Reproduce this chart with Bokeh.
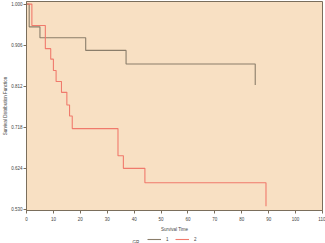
from bokeh.plotting import figure
from bokeh.layouts import column
from bokeh.models import Range1d, FixedTicker, NumeralTickFormatter, Legend, LegendItem, Label
from bokeh.embed import file_html
from bokeh.resources import INLINE

# Data (Kaplan-Meier estimates)
time_g1 = [0, 1, 5, 22, 37, 85]
surv_g1 = [1.0, 0.948, 0.923, 0.894, 0.863, 0.815]
time_g2 = [0, 2, 7, 9, 10, 11, 13, 15, 16, 17, 34, 36, 44, 89]
surv_g2 = [1.0, 0.951, 0.898, 0.874, 0.848, 0.823, 0.798, 0.769, 0.744, 0.715, 0.653, 0.624, 0.591, 0.537]
x_ticks = [0, 10, 20, 30, 40, 50, 60, 70, 80, 90, 100, 110]
y_ticks = [0.530, 0.624, 0.718, 0.812, 0.906, 1.000]
group_labels = ["1", "2"]
legend_title = "GR"

FONT = "Liberation Sans"
FRAME = "#7a6e5c"
TXT = "#444444"
C1 = "#8a7d6a"
C2 = "#f07a6c"

p = figure(width=325, height=234, output_backend="svg", toolbar_location=None,
           x_range=Range1d(0, 110), y_range=Range1d(0.5275, 1.006),
           min_border_left=25, min_border_right=3, min_border_top=1, min_border_bottom=22)
p.background_fill_color = "#f8e0c3"
p.border_fill_color = "white"
p.outline_line_color = FRAME
p.outline_line_width = 1
p.grid.visible = False

r1 = p.step(time_g1, surv_g1, mode="after", line_color=C1, line_width=1.1)
r2 = p.step(time_g2, surv_g2, mode="after", line_color=C2, line_width=1.1)

for ax in (p.xaxis[0], p.yaxis[0]):
    ax.axis_line_color = FRAME
    ax.major_tick_line_color = FRAME
    ax.minor_tick_line_color = None
    ax.major_tick_in = 0
    ax.major_tick_out = 3
    ax.major_label_text_font = FONT
    ax.major_label_text_font_size = "4.5px"
    ax.major_label_text_color = TXT
    ax.axis_label_text_font = FONT
    ax.axis_label_text_font_size = "4.5px"
    ax.axis_label_text_font_style = "normal"
    ax.axis_label_text_color = TXT

p.xaxis.ticker = FixedTicker(ticks=x_ticks)
p.yaxis.ticker = FixedTicker(ticks=y_ticks)
p.yaxis.formatter = NumeralTickFormatter(format="0.000")
p.xaxis.axis_label = "Survival Time"
p.yaxis.axis_label = "Survival Distribution Function"
p.xaxis.major_label_standoff = 3
p.xaxis.axis_label_standoff = 3
p.yaxis.major_label_standoff = 1
p.yaxis.axis_label_standoff = 0

# legend row as a separate small figure (frame aligned with the main frame)
q = figure(width=325, height=9, output_backend="svg", toolbar_location=None,
           x_range=Range1d(0, 1), y_range=Range1d(0, 1),
           x_axis_location=None, y_axis_location=None,
           min_border_left=25, min_border_right=3, min_border_top=0, min_border_bottom=0)
q.outline_line_color = None
q.grid.visible = False
q.border_fill_color = "white"
q.background_fill_color = "white"
# swatch renderers: data lie outside the visible range, only their legend glyphs show
l1 = q.line([5, 6], [5, 6], line_color=C1, line_width=1.1)
l2 = q.line([5, 6], [5, 6], line_color=C2, line_width=1.1)
legend = Legend(items=[LegendItem(label=group_labels[0], renderers=[l1]),
                       LegendItem(label=group_labels[1], renderers=[l2])],
                orientation="horizontal", location=(121, 1),
                padding=0, margin=0, spacing=6,
                glyph_width=14, glyph_height=6, label_height=6, label_width=3,
                label_standoff=5, label_text_font=FONT, label_text_font_size="4.5px",
                label_text_color=TXT,
                background_fill_alpha=0, border_line_color=None)
q.add_layout(legend, "center")
q.add_layout(Label(x=106, y=4, x_units="screen", y_units="screen", text=legend_title,
                   text_baseline="middle", text_font=FONT, text_font_size="4.5px",
                   text_color=TXT))

layout = column(p, q, spacing=0)
open("out.html", "w").write(file_html(layout, INLINE))
